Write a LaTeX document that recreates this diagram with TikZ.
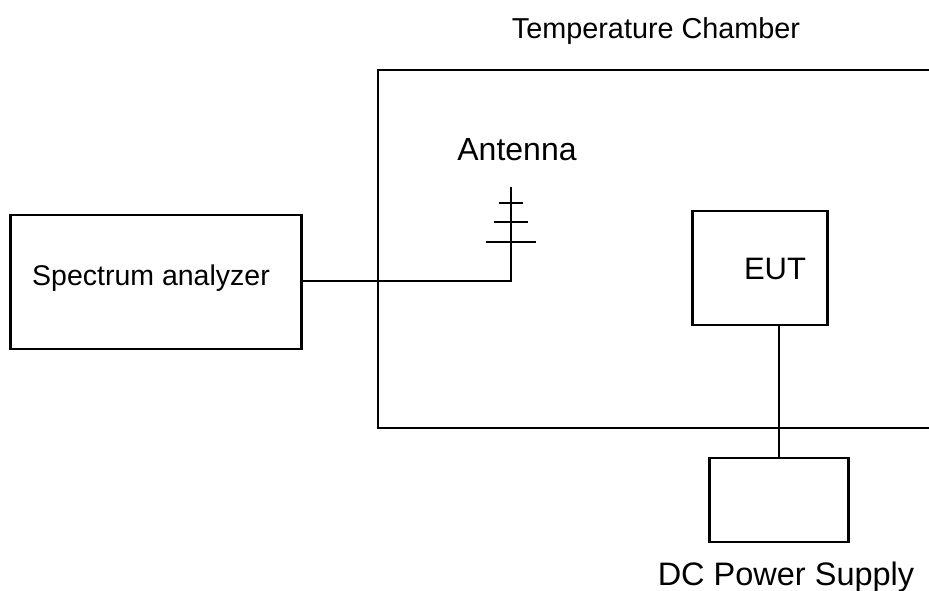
\documentclass[tikz,border=0pt]{standalone}
\usepackage{fontspec}
\setmainfont{Liberation Sans}
\usetikzlibrary{positioning, calc}
\tikzset{
    unit/.style={draw, line width=2.3pt, inner sep=0pt, minimum width=#1},
    lbl/.style={inner sep=0pt},
    wire/.style={line width=2.3pt}
}
\begin{document}
\begin{tikzpicture}[x=1pt, y=-1pt]
    \useasboundingbox (0,0) rectangle (929,591);
    \node (A) [unit=291pt, minimum height=134pt] at (156,282) {};
    \node (E) [unit=135pt, minimum height=114pt] at (760,268) {};
    \node (P) [unit=139pt, minimum height=84pt] at (779,500) {};
    \node (SA) [lbl] at (151,278) {\fontsize{28.5}{32}\selectfont Spectrum analyzer};
    \node (EL) [lbl] at (775,268.5) {\fontsize{31}{36}\selectfont EUT};
    \node (TC) [lbl] at (656,31) {\fontsize{28.8}{32}\selectfont Temperature Chamber};
    \node (AN) [lbl] at (517,150) {\fontsize{32}{36}\selectfont Antenna};
    \node (DC) [lbl] at (786,577.5) {\fontsize{32.5}{36}\selectfont DC Power Supply};
    \coordinate (C1) at (929,70);
    \coordinate (C2) at (378,70);
    \coordinate (C3) at (378,428);
    \coordinate (C4) at (929,428);
    \coordinate (T) at (511,187);
    \coordinate (K) at (511,281);
    \coordinate (R1a) at (499,203);
    \coordinate (R1b) at (523,203);
    \coordinate (R2a) at (494,222);
    \coordinate (R2b) at (528,222);
    \coordinate (R3a) at (486,242);
    \coordinate (R3b) at (536,242);
    \draw[wire] (C1) -- (C2) -- (C3) -- (C4);
    \draw[wire] (A.east |- K) -- (K) -- (T);
    \draw[wire] (R1a) -- (R1b);
    \draw[wire] (R2a) -- (R2b);
    \draw[wire] (R3a) -- (R3b);
    \draw[wire] (E.south -| P.north) -- (P.north);
\end{tikzpicture}
\end{document}
